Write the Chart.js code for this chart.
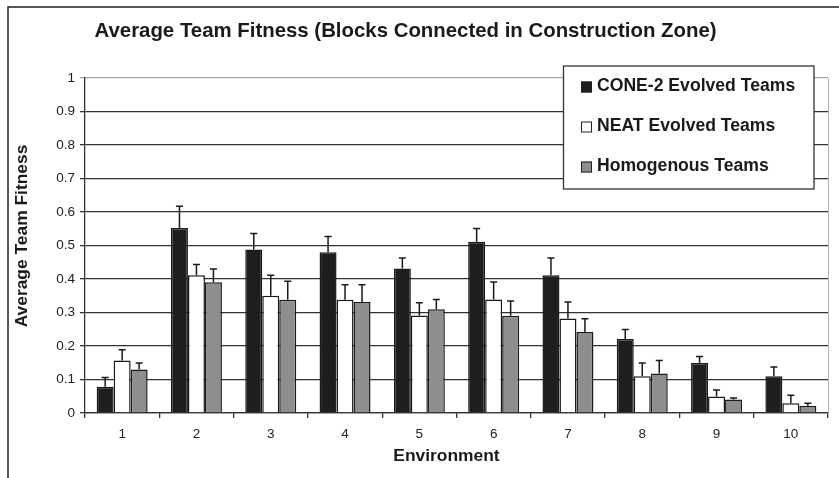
<!DOCTYPE html>
<html>
<head>
<meta charset="utf-8">
<script src="https://cdn.jsdelivr.net/npm/chart.js@4"></script>
<style>
  html, body { margin: 0; padding: 0; background: #fff; }
  #wrap { width: 839px; height: 478px; }
</style>
</head>
<body>
<div id="wrap"><canvas id="chart" width="839" height="478"></canvas></div>
<script>
const FONT = "'Liberation Sans', Arial, sans-serif";

// données
const environments = ['1', '2', '3', '4', '5', '6', '7', '8', '9', '10'];
const coneValues  = [0.078, 0.552, 0.488, 0.480, 0.431, 0.511, 0.411, 0.221, 0.149, 0.110];
const coneErrors  = [0.028, 0.065, 0.048, 0.047, 0.032, 0.040, 0.052, 0.028, 0.020, 0.027];
const neatValues  = [0.157, 0.411, 0.350, 0.338, 0.291, 0.339, 0.282, 0.110, 0.049, 0.029];
const neatErrors  = [0.032, 0.032, 0.061, 0.045, 0.038, 0.052, 0.049, 0.039, 0.020, 0.024];
const homogValues = [0.130, 0.390, 0.338, 0.331, 0.310, 0.290, 0.242, 0.118, 0.040, 0.021];
const homogErrors = [0.019, 0.040, 0.055, 0.052, 0.029, 0.044, 0.039, 0.039, 0.005, 0.008];
const seriesNames = ['CONE-2 Evolved Teams', 'NEAT Evolved Teams', 'Homogenous Teams'];
const seriesColors = ['#1e1e1e', '#ffffff', '#8e8e8e'];

const titleText = 'Average Team Fitness (Blocks Connected in Construction Zone)';
const xTitle = 'Environment';
const yTitle = 'Average Team Fitness';

// barres d'erreur (seulement vers le haut)
const errorBars = {
    id: 'errorBars',
    afterDatasetsDraw(chart) {
        const { ctx, scales: { y } } = chart;
        ctx.save();
        ctx.strokeStyle = '#1a1a1a';
        ctx.lineWidth = 1.5;
        chart.data.datasets.forEach((ds, i) => {
            chart.getDatasetMeta(i).data.forEach((bar, j) => {
                const top = y.getPixelForValue(ds.data[j] + ds.errors[j]);
                ctx.beginPath();
                ctx.moveTo(bar.x, bar.y);
                ctx.lineTo(bar.x, top);
                ctx.moveTo(bar.x - 3.5, top);
                ctx.lineTo(bar.x + 3.5, top);
                ctx.stroke();
            });
        });
        ctx.restore();
    }
};

// cadre, titres, bordure droite et légende
const decor = {
    id: 'decor',
    beforeDraw(chart) {
        const { ctx } = chart;
        ctx.save();
        ctx.strokeStyle = '#222';
        ctx.lineWidth = 1.5;
        ctx.beginPath();
        ctx.moveTo(8, 478);
        ctx.lineTo(8, 7);
        ctx.lineTo(839, 7);
        ctx.stroke();
        ctx.restore();
    },
    afterDraw(chart) {
        const { ctx, chartArea: { top, bottom, right } } = chart;
        ctx.save();
        ctx.strokeStyle = '#b0b0b0';
        ctx.lineWidth = 1;
        ctx.beginPath();
        ctx.moveTo(right + 0.5, top);
        ctx.lineTo(right + 0.5, bottom);
        ctx.stroke();

        ctx.fillStyle = '#1a1a1a';
        ctx.textAlign = 'center';
        ctx.textBaseline = 'middle';
        ctx.font = 'bold 20.4px ' + FONT;
        ctx.fillText(titleText, 405.5, 31);
        ctx.font = 'bold 17.4px ' + FONT;
        ctx.fillText(xTitle, 446.5, 456);
        ctx.save();
        ctx.translate(22, 236);
        ctx.rotate(-Math.PI / 2);
        ctx.fillText(yTitle, 0, 0);
        ctx.restore();

        // légende
        ctx.fillStyle = '#fff';
        ctx.strokeStyle = '#333';
        ctx.lineWidth = 1.3;
        ctx.fillRect(563.5, 66, 250.5, 123);
        ctx.strokeRect(563.5, 66, 250.5, 123);
        ctx.font = 'bold 17.6px ' + FONT;
        ctx.textAlign = 'left';
        [86.5, 126.5, 166.5].forEach((yy, i) => {
            ctx.fillStyle = seriesColors[i];
            ctx.fillRect(581, yy - 5, 11, 11);
            ctx.lineWidth = 1;
            ctx.strokeStyle = '#222';
            ctx.strokeRect(581.5, yy - 4.5, 10, 10);
            ctx.fillStyle = '#1a1a1a';
            ctx.fillText(seriesNames[i], 597, yy);
        });
        ctx.restore();
    }
};

const makeSet = (label, values, errors, color) => ({
    label: label,
    data: values,
    errors: errors,
    backgroundColor: color,
    borderColor: '#1a1a1a',
    borderWidth: 1.5,
    categoryPercentage: 0.686,
    barPercentage: 1
});

new Chart(document.getElementById('chart').getContext('2d'), {
    type: 'bar',
    data: {
        labels: environments,
        datasets: [
            makeSet(seriesNames[0], coneValues, coneErrors, seriesColors[0]),
            makeSet(seriesNames[1], neatValues, neatErrors, seriesColors[1]),
            makeSet(seriesNames[2], homogValues, homogErrors, seriesColors[2])
        ]
    },
    options: {
        responsive: false,
        animation: false,
        layout: { padding: { left: 8, right: 11, top: 78, bottom: 0 } },
        scales: {
            x: {
                afterFit: s => { s.height = 65; },
                grid: { drawOnChartArea: false, tickLength: 5, color: '#333', lineWidth: 1.3 },
                border: { color: '#333', width: 1.3 },
                ticks: { color: '#222', padding: 8, font: { family: FONT, size: 13.5 } }
            },
            y: {
                min: 0,
                max: 1,
                afterFit: s => { s.width = 77; },
                grid: {
                    tickLength: 5,
                    lineWidth: 1.3,
                    color: c => (c.tick && c.tick.value === 1) ? '#a8a8a8' : '#333'
                },
                border: { color: '#333', width: 1.3 },
                ticks: {
                    stepSize: 0.1,
                    padding: 5,
                    color: '#222',
                    font: { family: FONT, size: 13.5 },
                    callback: v => String(Number(v.toFixed(1)))
                }
            }
        },
        plugins: {
            legend: { display: false },
            tooltip: { enabled: false }
        }
    },
    plugins: [errorBars, decor]
});
</script>
</body>
</html>
